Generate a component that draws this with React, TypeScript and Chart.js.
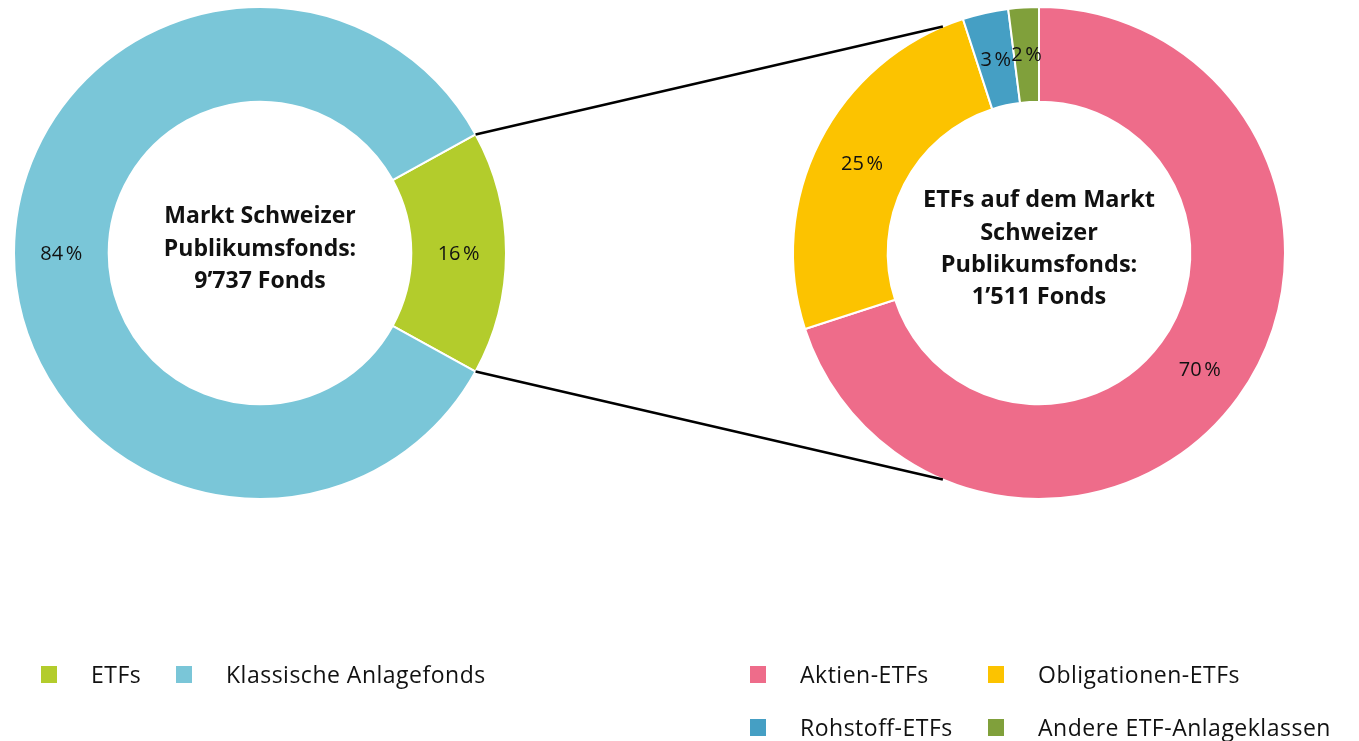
import React, { useEffect, useRef } from "react";
import { Chart, registerables } from "chart.js";

Chart.register(...registerables);

// ---- Data ----
const marketLabels = ["ETFs", "Klassische Anlagefonds"];
const marketValues = [16, 84];
const marketCenterText = ["Markt Schweizer", "Publikumsfonds:", "9\u2019737 Fonds"];

const etfLabels = ["Aktien-ETFs", "Obligationen-ETFs", "Rohstoff-ETFs", "Andere ETF-Anlageklassen"];
const etfValues = [70, 25, 3, 2];
const etfCenterText = ["ETFs auf dem Markt", "Schweizer", "Publikumsfonds:", "1\u2019511 Fonds"];

// ---- Style ----
const marketColors = ["#b3cc2c", "#7ac6d8"];
const etfColors = ["#ee6c8a", "#fcc300", "#459fc4", "#80a03b"];
const FONT = "'Open Sans', 'Noto Sans', sans-serif";
const W = 1359;
const H = 741;
const OUTER = 246;
const INNER = 155;
const CONNECTOR_DEG = 113;

const labelPlugin = {
  id: "arcLabels",
  afterDatasetsDraw(chart: any) {
    const ctx = chart.ctx;
    const meta = chart.getDatasetMeta(0);
    const data = chart.data.datasets[0].data;
    ctx.save();
    ctx.font = `400 20px ${FONT}`;
    ctx.fillStyle = "#111";
    ctx.textAlign = "center";
    ctx.textBaseline = "middle";
    meta.data.forEach((arc: any, i: number) => {
      const p = arc.getCenterPoint();
      ctx.fillText(`${data[i]}\u202F%`, p.x, p.y + 1);
    });
    ctx.restore();
  },
};

const centerPlugin = {
  id: "centerText",
  afterDraw(chart: any, _args: any, opts: any) {
    const lines: string[] = opts.lines || [];
    const size: number = opts.size || 23;
    const arc = chart.getDatasetMeta(0).data[0];
    if (!arc) return;
    const ctx = chart.ctx;
    const lh = 32.3;
    ctx.save();
    ctx.font = `700 ${size}px ${FONT}`;
    ctx.fillStyle = "#111";
    ctx.textAlign = "center";
    ctx.textBaseline = "middle";
    const y0 = arc.y - 4 - ((lines.length - 1) * lh) / 2;
    lines.forEach((l, i) => ctx.fillText(l, arc.x, y0 + i * lh));
    ctx.restore();
  },
};

function makeConnectorPlugin(getLeft: () => any) {
  return {
    id: "connector",
    afterDraw(chart: any) {
      const left = getLeft();
      if (!left) return;
      const la = left.getDatasetMeta(0).data[0];
      const ra = chart.getDatasetMeta(0).data[0];
      if (!la || !ra) return;
      const ctx = chart.ctx;
      const a = (CONNECTOR_DEG * Math.PI) / 180;
      const pts = [
        [la.startAngle, -a],
        [la.endAngle, a],
      ];
      ctx.save();
      ctx.strokeStyle = "#000";
      ctx.lineWidth = 2.5;
      pts.forEach(([s, e]) => {
        ctx.beginPath();
        ctx.moveTo(la.x + la.outerRadius * Math.cos(s), la.y + la.outerRadius * Math.sin(s));
        ctx.lineTo(ra.x + ra.outerRadius * Math.cos(e), ra.y + ra.outerRadius * Math.sin(e));
        ctx.stroke();
      });
      ctx.restore();
    },
  };
}

export default function App() {
  const leftRef = useRef<HTMLCanvasElement>(null);
  const rightRef = useRef<HTMLCanvasElement>(null);

  useEffect(() => {
    const sum = marketValues.reduce((a, b) => a + b, 0);
    const rotation = 90 - (marketValues[0] / sum) * 180;
    const left = new Chart(leftRef.current!, {
      type: "doughnut",
      data: {
        labels: marketLabels,
        datasets: [
          {
            data: marketValues,
            backgroundColor: marketColors,
            borderColor: "#fff",
            borderWidth: 2,
          },
        ],
      },
      options: {
        animation: false,
        responsive: false,
        events: [],
        rotation,
        radius: OUTER,
        cutout: INNER,
        layout: { padding: { left: 0, top: 0, right: W - 520, bottom: H - 506 } },
        plugins: {
          legend: { display: false },
          tooltip: { enabled: false },
          centerText: { lines: marketCenterText, size: 23 },
        } as any,
      },
      plugins: [labelPlugin, centerPlugin],
    });

    const right = new Chart(rightRef.current!, {
      type: "doughnut",
      data: {
        labels: etfLabels,
        datasets: [
          {
            data: etfValues,
            backgroundColor: etfColors,
            borderColor: "#fff",
            borderWidth: 2,
          },
        ],
      },
      options: {
        animation: false,
        responsive: false,
        events: [],
        rotation: 0,
        radius: OUTER,
        cutout: INNER,
        layout: { padding: { left: 779, top: 0, right: W - 1299, bottom: H - 506 } },
        plugins: {
          legend: { display: false },
          tooltip: { enabled: false },
          centerText: { lines: etfCenterText, size: 23.5 },
        } as any,
      },
      plugins: [labelPlugin, centerPlugin, makeConnectorPlugin(() => left)],
    });

    return () => {
      right.destroy();
      left.destroy();
    };
  }, []);

  const legendText: React.CSSProperties = {
    position: "absolute",
    font: `400 23px ${FONT}`,
    letterSpacing: "0.5px",
    color: "#111",
    whiteSpace: "nowrap",
    lineHeight: "30px",
    transform: "translateY(-50%)",
  };
  const sq = (color: string, x: number, y: number) => (
    <div
      style={{
        position: "absolute",
        left: x,
        top: y - 8,
        width: 16,
        height: 17,
        background: color,
      }}
    />
  );

  const legendItems: { label: string; color: string; x: number; y: number }[] = [];
  marketLabels.forEach((l, i) => legendItems.push({ label: l, color: marketColors[i], x: 41 + i * 135, y: 674 }));
  etfLabels.forEach((l, i) =>
    legendItems.push({ label: l, color: etfColors[i], x: 750 + (i % 2) * 238, y: 674 + Math.floor(i / 2) * 53 })
  );

  return (
    <div style={{ position: "absolute", left: 0, top: 0, width: W, height: H, background: "#fff", overflow: "hidden" }}>
      <canvas ref={leftRef} width={W} height={H} style={{ position: "absolute", left: 0, top: 0, width: W, height: H }} />
      <canvas ref={rightRef} width={W} height={H} style={{ position: "absolute", left: 0, top: 0, width: W, height: H }} />
      {legendItems.map((it, i) => (
        <React.Fragment key={i}>
          {sq(it.color, it.x, it.y)}
          <span style={{ ...legendText, left: it.x + 50, top: it.y }}>{it.label}</span>
        </React.Fragment>
      ))}
    </div>
  );
}
